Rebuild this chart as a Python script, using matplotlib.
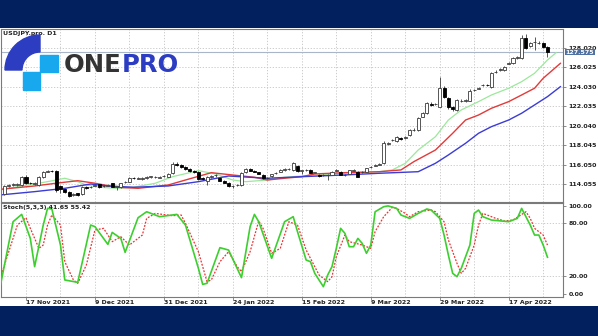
import numpy as np
import matplotlib.pyplot as plt
from matplotlib.patches import Rectangle, Wedge
from matplotlib.transforms import blended_transform_factory

# Barras diarias USDJPY, indice 0 = 17 Nov 2021
indiceBarras = np.arange(-5, 122)
apertura = [113.05, 113.9, 114.0, 113.95, 113.95, 114.8, 114.2, 114.1, 114.0, 114.8,
            115.35, 115.45, 115.4, 113.9, 113.6, 113.3, 112.95, 113.1, 113.0, 113.75,
            113.75, 113.9, 114.05, 113.85, 113.9, 114.15, 113.8, 113.75, 114.25, 114.3,
            114.7, 114.6, 114.6, 114.65, 114.8, 114.75, 114.7, 114.85, 114.8, 115.2,
            116.1, 116.0, 115.85, 115.65, 115.4, 115.35, 114.65, 114.4, 114.8, 114.95,
            114.7, 114.4, 114.2, 113.85, 113.95, 114.0, 115.3, 115.65, 115.45, 115.3,
            115.0, 114.65, 114.85, 115.15, 115.35, 115.55, 115.6, 115.5, 115.95, 115.45,
            115.5, 115.55, 115.2, 115.0, 114.95, 115.0, 115.0, 115.45, 115.33, 115.0,
            115.1, 115.45, 115.33, 115.3, 115.33, 115.8, 115.95, 116.05, 116.2, 118.2,
            118.55, 118.5, 118.75, 118.75, 119.1, 119.6, 119.6, 120.95, 121.3, 122.3,
            122.25, 122.0, 123.9, 122.9, 122.0, 121.65, 122.55, 122.6, 122.6, 123.65,
            123.8, 124.15, 124.2, 124.0, 125.5, 125.7, 125.7, 126.4, 126.45, 126.95,
            127.0, 129.0, 128.15, 128.55, 128.5, 128.45, 128.05]
maximo = [114.0, 114.1, 114.15, 114.2, 114.9, 114.95, 114.3, 114.3, 114.9, 115.4,
          115.55, 115.55, 115.5, 114.0, 113.7, 113.4, 113.15, 113.2, 113.85, 113.85,
          113.9, 114.1, 114.1, 113.95, 114.05, 114.2, 113.9, 114.2, 114.4, 114.75,
          114.8, 114.75, 114.75, 114.85, 114.9, 114.85, 114.9, 114.95, 115.2, 116.35,
          116.3, 116.15, 115.95, 115.75, 115.5, 115.45, 114.8, 114.9, 115.0, 115.1,
          114.8, 114.5, 114.25, 113.95, 114.1, 115.3, 115.75, 115.75, 115.5, 115.35,
          115.05, 114.8, 115.1, 115.3, 115.6, 115.7, 115.7, 116.35, 116.05, 115.55,
          115.65, 115.6, 115.35, 115.1, 115.1, 115.1, 115.4, 115.6, 115.4, 115.1,
          115.55, 115.6, 115.4, 115.45, 115.75, 115.95, 116.1, 116.2, 118.45, 118.35,
          118.7, 119.0, 118.85, 118.95, 119.65, 119.75, 120.95, 121.4, 122.45, 122.45,
          122.4, 125.05, 124.1, 123.0, 122.05, 122.75, 122.75, 122.8, 123.75, 123.8,
          123.95, 124.3, 124.3, 125.5, 125.7, 125.9, 126.15, 126.6, 127.05, 127.15,
          129.35, 129.4, 128.6, 129.15, 128.7, 128.55, 128.15]
minimo = [112.9, 113.8, 113.9, 113.85, 113.85, 114.05, 114.05, 114.0, 113.9, 114.7,
          115.25, 115.3, 113.3, 113.2, 113.2, 112.7, 112.85, 112.85, 112.9, 113.6,
          113.65, 113.85, 113.7, 113.75, 113.85, 113.75, 113.45, 113.7, 114.15, 114.25,
          114.55, 114.55, 114.5, 114.6, 114.7, 114.65, 114.65, 114.75, 114.75, 115.1,
          115.9, 115.75, 115.5, 115.35, 115.2, 114.5, 114.45, 114.0, 114.7, 114.8,
          114.35, 114.15, 113.8, 113.7, 113.85, 113.9, 115.2, 115.4, 115.25, 115.05,
          114.6, 114.55, 114.75, 115.1, 115.3, 115.45, 115.5, 115.45, 115.35, 115.1,
          115.4, 115.15, 115.15, 114.8, 114.85, 114.5, 114.95, 115.4, 114.95, 114.9,
          115.05, 115.4, 114.75, 115.2, 115.3, 115.75, 115.9, 116.0, 116.1, 118.1,
          118.5, 118.4, 118.6, 118.65, 119.0, 119.5, 119.5, 120.9, 121.2, 122.05,
          122.2, 121.9, 122.9, 121.7, 121.55, 121.55, 122.5, 122.5, 122.55, 123.55,
          123.75, 124.1, 124.05, 123.9, 125.4, 125.6, 125.6, 126.3, 126.4, 126.85,
          126.9, 127.9, 128.05, 127.8, 128.4, 128.0, 127.1]
cierre = [113.85, 114.0, 114.05, 114.1, 114.8, 114.15, 114.15, 114.2, 114.8, 115.3,
          115.45, 115.4, 113.45, 113.55, 113.3, 112.8, 113.05, 112.95, 113.8, 113.7,
          113.8, 113.97, 113.8, 113.87, 113.97, 113.8, 113.8, 114.15, 114.3, 114.7,
          114.65, 114.68, 114.7, 114.75, 114.82, 114.75, 114.8, 114.85, 115.1, 116.1,
          116.0, 115.8, 115.6, 115.4, 115.3, 114.6, 114.55, 114.8, 114.9, 114.95,
          114.4, 114.2, 113.85, 113.85, 114.0, 115.15, 115.65, 115.45, 115.3, 115.1,
          114.66, 114.7, 115.05, 115.2, 115.55, 115.6, 115.6, 116.2, 115.45, 115.45,
          115.55, 115.2, 115.25, 114.85, 115.0, 115.0, 115.33, 115.5, 115.0, 115.0,
          115.5, 115.5, 114.82, 115.33, 115.68, 115.85, 116.0, 116.1, 118.3, 118.24,
          118.6, 118.9, 118.7, 118.85, 119.6, 119.6, 120.85, 121.3, 122.35, 122.15,
          122.3, 123.9, 123.0, 122.0, 121.7, 122.65, 122.6, 122.65, 123.6, 123.7,
          123.85, 124.2, 124.15, 125.4, 125.55, 125.8, 126.05, 126.5, 126.95, 127.05,
          129.0, 128.0, 128.45, 128.6, 128.5, 128.1, 127.575]

# Medias moviles (barra, valor)
verdeIdx = [-6, -1, 3, 7, 9, 12, 14, 17, 21, 25, 30, 34, 40, 44, 48, 51, 56, 60, 64, 74,
            82, 85, 88, 91, 95, 98, 101, 105, 108, 112, 115, 118, 121, 123]
verdeVal = [113.46, 113.87, 114.15, 114.48, 114.66, 114.31, 113.97, 113.74, 113.63, 113.74,
            114.15, 114.82, 115.44, 115.10, 114.48, 114.31, 114.48, 114.76, 114.89, 115.17,
            115.33, 115.51, 116.19, 117.55, 118.91, 120.62, 121.65, 122.50, 123.18, 123.87,
            124.54, 125.40, 126.76, 127.51]
rojoIdx = [-6, 2, 7, 12, 16, 21, 26, 33, 37, 43, 48, 53, 56, 60, 64, 67, 74, 82, 87, 90,
           95, 99, 102, 105, 108, 112, 115, 118, 120, 124]
rojoVal = [113.53, 113.87, 114.15, 114.41, 114.15, 113.74, 113.63, 113.97, 114.48, 115.23,
           114.99, 114.76, 114.48, 114.66, 114.82, 115.10, 115.23, 115.33, 115.51, 116.36,
           117.55, 119.26, 120.62, 121.13, 121.82, 122.50, 123.18, 123.87, 124.89, 126.42]
azulIdx = [-6, 2, 9, 15, 19, 25, 33, 40, 47, 52, 56, 64, 74, 82, 91, 95, 98, 102, 105, 108,
           112, 115, 118, 121, 124]
azulVal = [112.95, 113.29, 113.63, 114.07, 113.87, 113.74, 113.87, 114.31, 114.89, 114.76,
           114.66, 114.82, 115.00, 115.17, 115.33, 116.19, 117.04, 118.24, 119.26, 119.94,
           120.62, 121.31, 122.16, 123.01, 124.03]

# Estocastico (5,3,3): %K y %D
kIdx = [-6, -5, -3, -1, 1, 2, 4, 5, 6, 8, 9, 12, 15, 16, 19, 20, 22, 23, 26, 28,
        31, 35, 37, 40, 41, 42, 45, 47, 50, 52, 53, 54, 57, 60, 62, 63, 65, 66, 67, 69,
        70, 71, 72, 73, 74, 75, 76, 77, 78, 79, 80, 81, 83, 84, 86, 87, 89, 91, 93, 94,
        96, 97, 98, 99, 100, 101, 103, 104, 105, 106, 108, 112, 114, 115, 117, 118, 119, 120, 121]
kVal = [8.3, 32.8, 81.9, 90.2, 63.0, 31.0, 78.1, 97.0, 96.3, 55.5, 15.9, 13.2, 78.1, 76.3, 56.2,
        69.8, 63.0, 47.2, 86.4, 93.2, 87.6, 90.2, 78.1, 29.1, 10.9, 12.1, 52.5, 49.8, 18.5, 76.3,
        90.2, 81.9, 40.4, 81.9, 87.6, 70.6, 38.5, 36.6, 23.4, 8.3, 21.5, 31.0, 51.7, 74.4, 68.7,
        53.6, 53.6, 63.0, 57.4, 46.1, 55.5, 93.2, 98.9, 99.8, 97.0, 89.5, 85.7, 91.3, 96.3, 95.1,
        85.7, 66.8, 44.2, 23.4, 19.6, 29.1, 55.5, 91.3, 95.1, 87.6, 83.8, 81.9, 85.7, 97.0, 78.1,
        66.8, 66.8, 55.5, 41.65]
dIdx = [-6, -5, -2, 0, 1, 3, 4, 5, 6, 8, 9, 11, 12, 14, 16, 18, 20, 22, 24, 27,
        28, 30, 34, 36, 37, 40, 42, 43, 45, 47, 49, 50, 52, 54, 55, 57, 59, 61, 63, 65,
        67, 68, 70, 71, 72, 74, 75, 78, 80, 81, 83, 85, 86, 88, 89, 91, 94, 95, 97, 98,
        100, 101, 102, 104, 105, 106, 107, 109, 111, 113, 116, 117, 118, 120, 121]
dVal = [17.7, 32.8, 78.1, 86.4, 74.4, 51.7, 55.5, 78.1, 89.5, 78.1, 36.6, 15.9, 12.1, 32.8, 72.5,
        74.4, 59.3, 64.9, 55.5, 66.8, 85.7, 91.3, 88.7, 89.5, 80.0, 47.9, 14.0, 15.9, 36.6, 47.9,
        31.0, 25.3, 47.9, 82.7, 74.4, 46.1, 51.7, 81.9, 78.1, 49.8, 31.0, 21.5, 14.0, 19.6, 42.2,
        66.8, 59.3, 55.5, 51.7, 70.6, 87.6, 98.2, 97.0, 91.3, 87.6, 93.2, 95.1, 93.2, 81.9, 61.2,
        34.7, 23.4, 29.1, 55.5, 78.1, 91.3, 89.5, 85.7, 82.7, 83.8, 93.2, 85.7, 74.4, 66.8, 55.42]

nivelesPrecio = [114.055, 116.050, 118.045, 120.040, 122.035, 124.030, 126.025, 128.020]
precioActual = 127.575
fechasIdx = [0, 16, 32, 48, 64, 80, 96, 112]
fechas = ["17 Nov 2021", "9 Dec 2021", "31 Dec 2021", "24 Jan 2022",
          "15 Feb 2022", "9 Mar 2022", "29 Mar 2022", "17 Apr 2022"]

W, H = 598, 336
azulMarino = '#02205e'
gris = '#7a7a7a'
rejilla = dict(color='#c4c4c4', lw=0.6, ls=(0, (1.5, 2)), zorder=0)
fuente = dict(fontsize=4.5, fontweight='bold', color='#222222')

fig = plt.figure(figsize=(W / 100, H / 100), dpi=100)
fig.patch.set_facecolor(azulMarino)
fig.patches.append(Rectangle((0, 30 / H), 1, 278 / H, transform=fig.transFigure,
                             facecolor='white', edgecolor='none', zorder=-1))

axPrecio = fig.add_axes([1 / W, 134 / H, 562 / W, 173 / H], zorder=2)
axStoch = fig.add_axes([1 / W, 39 / H, 562 / W, 94 / H], zorder=2)

for ax in (axPrecio, axStoch):
    ax.set_facecolor('none')
    ax.set_xlim(-5.8, 124.6)
    for s in ax.spines.values():
        s.set_color(gris)
        s.set_linewidth(0.8)
    for i in range(0, 125, 8):
        ax.axvline(i, **rejilla)
    ax.yaxis.tick_right()
    ax.tick_params(axis='y', length=2, width=0.6, color=gris, pad=2, labelsize=4.5,
                   labelcolor='#222222')

# ---- panel de precios ----
axPrecio.set_ylim(112.23, 129.93)
for nivel in nivelesPrecio:
    axPrecio.axhline(nivel, **rejilla)
axPrecio.set_yticks(nivelesPrecio)
axPrecio.set_yticklabels([f"{n:.3f}" for n in nivelesPrecio], fontweight='bold')
axPrecio.set_xticks([])

axPrecio.plot(verdeIdx, verdeVal, color='#9be89b', lw=0.9, zorder=2)
axPrecio.plot(rojoIdx, rojoVal, color='#e23a3a', lw=1.0, zorder=2)
axPrecio.plot(azulIdx, azulVal, color='#3b3bd6', lw=1.0, zorder=2)

apertura = np.array(apertura)
cierre = np.array(cierre)
sube = cierre >= apertura
cuerpoBase = np.minimum(apertura, cierre)
cuerpoAlto = np.maximum(np.abs(cierre - apertura), 0.04)
axPrecio.vlines(indiceBarras, minimo, maximo, color='#3a3a3a', lw=0.6, zorder=3)
axPrecio.bar(indiceBarras[sube], cuerpoAlto[sube], bottom=cuerpoBase[sube], width=0.7,
             color='white', edgecolor='#3a3a3a', linewidth=0.6, zorder=4)
axPrecio.bar(indiceBarras[~sube], cuerpoAlto[~sube], bottom=cuerpoBase[~sube], width=0.7,
             color='black', edgecolor='black', linewidth=0.6, zorder=4)

axPrecio.axhline(precioActual, color='#a9b6ca', lw=0.8, zorder=1)
mezcla = blended_transform_factory(axPrecio.transAxes, axPrecio.transData)
axPrecio.text(1.005, precioActual, f"{precioActual:.3f}", transform=mezcla, fontsize=4.5,
              fontweight='bold', color='white', va='center', ha='left', clip_on=False,
              bbox=dict(boxstyle='square,pad=0.06', fc='#4f70a0', ec='none'))
axPrecio.text(0.004, 0.99, "USDJPY.pro. D1", transform=axPrecio.transAxes, va='top',
              ha='left', **fuente)

# ---- panel estocastico ----
axStoch.set_ylim(-3.4, 103.1)
for nivel in (20, 80):
    axStoch.axhline(nivel, **rejilla)
axStoch.plot(kIdx, kVal, color='#3ccf2e', lw=1.2, zorder=3)
axStoch.plot(dIdx, dVal, color='#ee3030', lw=0.9, ls=(0, (1.5, 1.2)), zorder=2)
axStoch.set_yticks([0, 20, 80, 100])
axStoch.set_yticklabels(["0.00", "20.00", "80.00", "100.00"], fontweight='bold')
axStoch.set_xticks(fechasIdx)
axStoch.set_xticklabels(fechas, ha='left', fontsize=4.5, fontweight='bold', color='#222222')
axStoch.tick_params(axis='x', length=2, width=0.6, color=gris, pad=0.5)
axStoch.text(0.004, 0.975, "Stoch(5,3,3) 41.65 55.42", transform=axStoch.transAxes,
             va='top', ha='left', **fuente)

# ---- logotipo ----
axLogo = fig.add_axes([0, 0, 1, 1], zorder=10)
axLogo.set_xlim(0, W)
axLogo.set_ylim(H, 0)
axLogo.axis('off')
axLogo.patch.set_alpha(0)
axLogo.add_patch(Wedge((40, 70), 35, 180, 270, width=17, color='#2c3dc2'))
axLogo.add_patch(Rectangle((40, 54.5), 17.5, 17.5, color='#18a8ee'))
axLogo.add_patch(Rectangle((22.5, 72), 17.5, 17.5, color='#18a8ee'))
axLogo.text(64, 72, "ONE", fontsize=17.5, fontweight='bold', color='#333333',
            ha='left', va='baseline')
axLogo.text(122, 72, "PRO", fontsize=17.5, fontweight='bold', color='#2c3dc2',
            ha='left', va='baseline')

fig.savefig("out.png", dpi=100, facecolor=fig.get_facecolor())
